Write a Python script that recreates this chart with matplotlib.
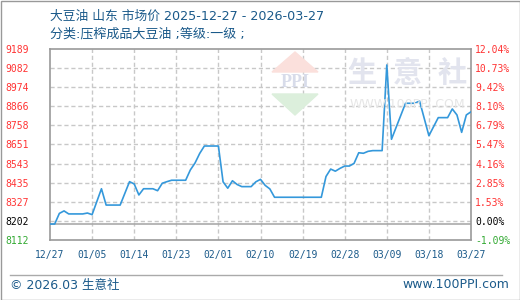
import numpy as np
import matplotlib
matplotlib.use('Agg')
import matplotlib.pyplot as plt
from matplotlib.patches import Polygon, Rectangle

# day offsets from 2025-12-27 and price (yuan/ton)
days = [0, 1, 2, 3, 4, 7, 8, 9, 11, 12, 15, 17, 18, 19, 20, 22, 23, 24, 25, 26,
        29, 30, 31, 32, 33, 36, 37, 38, 39, 40, 41, 43, 44, 45, 46, 47, 48, 58,
        59, 60, 61, 62, 63, 64, 65, 66, 67, 68, 69, 71, 72, 73, 76, 78, 79, 81,
        83, 85, 86, 87, 88, 89, 90]
prices = [8202, 8202, 8262, 8276, 8259, 8259, 8264, 8255, 8401, 8309, 8309, 8441,
          8428, 8366, 8401, 8401, 8390, 8432, 8441, 8449, 8449, 8507, 8546, 8600,
          8642, 8642, 8440, 8404, 8446, 8425, 8413, 8413, 8440, 8454, 8420, 8400,
          8353, 8353, 8470, 8512, 8500, 8516, 8529, 8529, 8544, 8604, 8601, 8612,
          8616, 8616, 9099, 8680, 8883, 8883, 8896, 8700, 8802, 8802, 8851, 8817,
          8719, 8817, 8835]

xtick_days = [0, 9, 18, 27, 36, 45, 54, 63, 72, 81, 90]
xtick_labels = ['12/27', '01/05', '01/14', '01/23', '02/01', '02/10', '02/19',
                '02/28', '03/09', '03/18', '03/27']
ylabels_left = ['8112', '8202', '8327', '8435', '8543', '8651', '8758', '8866',
                '8974', '9082', '9189']
ylabels_right = ['-1.09%', '0.00%', '1.53%', '2.85%', '4.16%', '5.47%', '6.79%',
                 '8.10%', '9.42%', '10.73%', '12.04%']
ymin, ymax = 8112, 9189
base = 8202

title = '大豆油 山东 市场价 2025-12-27 - 2026-03-27'
subtitle = '分类:压榨成品大豆油 ;等级:一级 ;'

blue_txt = '#1b5a8a'
red = '#ff3333'
green = '#33aa33'
linec = '#3498db'
gridc = '#c8c8c8'
spinec = '#999999'

plt.rcParams['font.family'] = ['DejaVu Sans', 'Noto Sans CJK SC']

fig = plt.figure(figsize=(5.2, 3.0), dpi=100)
W, H = 520, 300
ax = fig.add_axes([50/W, 60/H, 421/W, 191/H])

yticks = np.linspace(ymin, ymax, 11)

# watermark
wm = '#e2e4ee'
for ch, xc in zip('生意社', [362, 407, 452]):
    fig.text(xc/W, 1-73/H, ch, fontsize=21, color=wm, ha='center', va='center',
             family='Noto Sans CJK SC', fontweight='bold', zorder=0)
fig.text(407/W, 1-105/H, 'WWW.100PPI.COM', fontsize=9, color='#e6e6e6',
         ha='center', va='center', zorder=0)
fig.patches.append(Polygon([[272/W, 1-72/H], [318/W, 1-72/H], [295/W, 1-52/H]],
                           closed=True, transform=fig.transFigure,
                           color='#fbe0dc', zorder=0))
fig.patches.append(Polygon([[272/W, 1-94/H], [318/W, 1-94/H], [295/W, 1-115/H]],
                           closed=True, transform=fig.transFigure,
                           color='#dcefdc', zorder=0))
fig.text(295/W, 1-83/H, 'PPI', fontsize=13, color='#d8dcea', ha='center',
         va='center', family='Liberation Serif', fontweight='bold', zorder=0)
ax.patch.set_alpha(0)

# grid
for yt in yticks[1:-1]:
    ax.axhline(yt, color=gridc, lw=1, ls=(0, (3, 2)), zorder=1)
for xt in xtick_days[1:-1]:
    ax.axvline(xt, color=gridc, lw=1, ls=(0, (3, 2)), zorder=1)
ax.axhline(base, color='#aaaaaa', lw=1.2, zorder=2)

ax.plot(days, prices, color=linec, lw=1.2, zorder=3)

ax.set_xlim(0, 90)
ax.set_ylim(ymin, ymax)
for s in ax.spines.values():
    s.set_color(spinec)
    s.set_linewidth(1.2)

ax.set_xticks(xtick_days)
ax.set_xticklabels(xtick_labels, family='DejaVu Sans Mono', fontsize=7,
                   color=blue_txt)
ax.tick_params(axis='x', length=0, pad=7)

ax.set_yticks(yticks)
ax.set_yticklabels(ylabels_left, family='DejaVu Sans Mono', fontsize=7)
ax.tick_params(axis='y', length=0, pad=32)
for lab in ax.get_yticklabels():
    lab.set_horizontalalignment('left')
    lab.set_color(red)
ax.get_yticklabels()[0].set_color(green)
ax.get_yticklabels()[1].set_color('black')

ax2 = ax.twinx()
ax2.set_ylim(ymin, ymax)
ax2.set_yticks(yticks)
ax2.set_yticklabels(ylabels_right, family='DejaVu Sans Mono', fontsize=7)
ax2.tick_params(axis='y', length=0, pad=3)
for lab in ax2.get_yticklabels():
    lab.set_color(red)
ax2.get_yticklabels()[0].set_color(green)
ax2.get_yticklabels()[1].set_color('black')
for s in ax2.spines.values():
    s.set_visible(False)

# titles
fig.text(50/W, 1-16/H, title, fontsize=9.2, color=blue_txt, va='center')
fig.text(50/W, 1-34/H, subtitle, fontsize=9.4, color=blue_txt, va='center')

# footer
fig.add_artist(plt.Line2D([10/W, 502/W], [1-275/H, 1-275/H], color='#aaaaaa', lw=1))
fig.text(10/W, 1-285/H, '© 2026.03 生意社', fontsize=9, color=blue_txt, va='center')
fig.text(509/W, 1-285/H, 'www.100PPI.com', fontsize=9, color=blue_txt,
         va='center', ha='right')

# outer border
fig.patches.append(Rectangle((0.5/W, 0.5/H), 1-1/W, 1-1/H, transform=fig.transFigure,
                             fill=False, edgecolor='#999999', lw=1))

fig.savefig('out.png', dpi=100)
